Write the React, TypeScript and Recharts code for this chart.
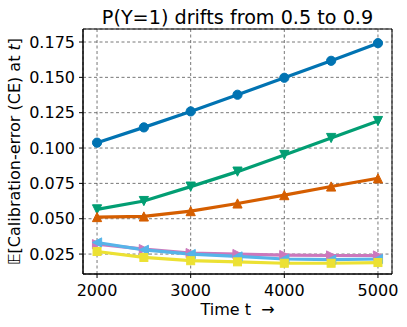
import React from "react";
import { CartesianGrid, Line, LineChart, ReferenceArea, XAxis, YAxis } from "recharts";

const TIMES = [2000, 2500, 3000, 3500, 4000, 4500, 5000];
const X_TICKS = [2000, 3000, 4000, 5000];
const Y_TICKS = [0.025, 0.05, 0.075, 0.1, 0.125, 0.15, 0.175];

const blueCE = [0.1038, 0.1146, 0.1259, 0.1377, 0.1497, 0.1617, 0.1742];
const greenCE = [0.0566, 0.0625, 0.0727, 0.0833, 0.0951, 0.1071, 0.1191];
const orangeCE = [0.0512, 0.0516, 0.0554, 0.0608, 0.0667, 0.0728, 0.0786];
const pinkCE = [0.032, 0.0285, 0.0257, 0.025, 0.0243, 0.024, 0.024];
const skyCE = [0.0332, 0.028, 0.025, 0.0233, 0.0215, 0.021, 0.0215];
const yellowCE = [0.0268, 0.0226, 0.0203, 0.0195, 0.0185, 0.0185, 0.019];

const FONT = "DejaVu Sans";
const X_DOMAIN = [1850, 5150];
const Y_DOMAIN = [0.0109, 0.1842];

type Shape = "circle" | "down" | "up" | "right" | "left" | "square";

const SERIES: { key: string; color: string; shape: Shape }[] = [
  { key: "blue", color: "#0173b2", shape: "circle" },
  { key: "green", color: "#029e73", shape: "down" },
  { key: "orange", color: "#d55e00", shape: "up" },
  { key: "pink", color: "#cc78bc", shape: "right" },
  { key: "sky", color: "#56b4e9", shape: "left" },
  { key: "yellow", color: "#ece133", shape: "square" }
];

const data = TIMES.map((t, i) => ({
  t,
  blue: blueCE[i],
  green: greenCE[i],
  orange: orangeCE[i],
  pink: pinkCE[i],
  sky: skyCE[i],
  yellow: yellowCE[i]
}));

function makeMarker(shape: Shape, color: string) {
  return (props: any) => {
    const { cx, cy, index } = props;
    const k = `${shape}-${index}`;
    if (cx == null || cy == null) return <g key={k} />;
    const s = 4.6;
    const common = { fill: color, stroke: color, strokeWidth: 1 };
    if (shape === "circle") return <circle key={k} cx={cx} cy={cy} r={s} {...common} />;
    if (shape === "square")
      return <rect key={k} x={cx - 4} y={cy - 4} width={8} height={8} {...common} />;
    let pts: number[][] = [];
    if (shape === "up") pts = [[0, -s], [-s, s], [s, s]];
    if (shape === "down") pts = [[0, s], [-s, -s], [s, -s]];
    if (shape === "right") pts = [[s, 0], [-s, -s], [-s, s]];
    if (shape === "left") pts = [[-s, 0], [s, -s], [s, s]];
    return (
      <polygon
        key={k}
        points={pts.map(([dx, dy]) => `${cx + dx},${cy + dy}`).join(" ")}
        {...common}
      />
    );
  };
}

export default function App() {
  return (
    <div style={{ position: "absolute", left: 0, top: 0, fontFamily: FONT }}>
      <LineChart
        width={407}
        height={327}
        data={data}
        margin={{ top: 29, right: 15, bottom: 0, left: 23 }}
      >
        <CartesianGrid stroke="#555" strokeDasharray="3 2.5" strokeWidth={0.8} />
        <XAxis
          dataKey="t"
          type="number"
          domain={X_DOMAIN}
          ticks={X_TICKS}
          allowDataOverflow
          height={53}
          tickSize={4}
          tickMargin={7}
          stroke="#000"
          tick={{ fill: "#000", fontSize: 16, fontFamily: FONT }}
          label={{
            content: (p: any) => {
              const vb = p.viewBox;
              return (
                <text
                  x={vb.x + vb.width / 2}
                  y={vb.y + 41}
                  textAnchor="middle"
                  fontSize={16}
                  fontFamily={FONT}
                  fill="#000"
                >
                  {"Time t\u00a0\u00a0→"}
                </text>
              );
            }
          }}
        />
        <YAxis
          type="number"
          domain={Y_DOMAIN}
          ticks={Y_TICKS}
          allowDataOverflow
          width={60}
          tickSize={4}
          tickMargin={4}
          stroke="#000"
          tickFormatter={(v: number) => v.toFixed(3)}
          tick={{ fill: "#000", fontSize: 16, fontFamily: FONT }}
          label={{
            content: (p: any) => {
              const vb = p.viewBox;
              const cy = vb.y + vb.height / 2;
              const x = 20;
              return (
                <text
                  x={x}
                  y={cy}
                  transform={`rotate(-90, ${x}, ${cy})`}
                  textAnchor="middle"
                  fontSize={16}
                  fontFamily={FONT}
                  fill="#000"
                >
                  𝔼[Calibration-error (CE) at <tspan fontStyle="italic">t</tspan>]
                </text>
              );
            }
          }}
        />
        {SERIES.map((s) => (
          <Line
            key={s.key}
            dataKey={s.key}
            stroke={s.color}
            strokeWidth={3.2}
            dot={makeMarker(s.shape, s.color)}
            activeDot={false}
            isAnimationActive={false}
          />
        ))}
        <ReferenceArea
          x1={X_DOMAIN[0]}
          x2={X_DOMAIN[1]}
          y1={Y_DOMAIN[0]}
          y2={Y_DOMAIN[1]}
          fill="none"
          fillOpacity={0}
          stroke="#000"
          strokeWidth={1}
          ifOverflow="visible"
          label={{
            content: (p: any) => {
              const vb = p.viewBox;
              return (
                <text
                  x={vb.x + vb.width / 2}
                  y={vb.y - 5.5}
                  textAnchor="middle"
                  fontSize={19.2}
                  fontFamily={FONT}
                  fill="#000"
                >
                  P(Y=1) drifts from 0.5 to 0.9
                </text>
              );
            }
          }}
        />
      </LineChart>
    </div>
  );
}
